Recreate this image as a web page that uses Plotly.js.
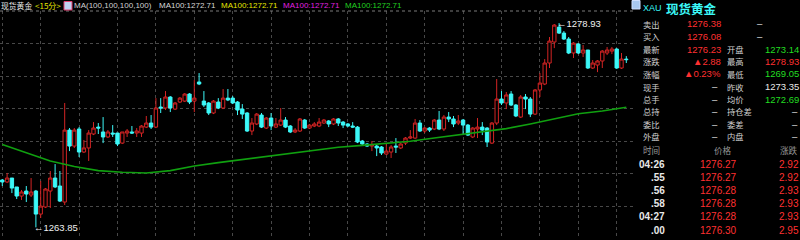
<!DOCTYPE html>
<html><head><meta charset="utf-8">
<script src="https://cdn.plot.ly/plotly-3.0.1.min.js"></script>
<style>html,body{margin:0;padding:0;background:#000;}#chart{width:800px;height:240px;}</style>
</head><body><div id="chart"></div>
<script>
// ---------- data ----------
const openP = [
1267.34,1267.20,1267.49,1266.83,1266.16,1266.53,1266.24,1266.53,1264.83,1265.35,
1266.53,1267.49,1266.90,1265.72,1271.03,1269.85,1271.11,1269.41,1269.71,1270.74,
1271.25,1270.89,1270.52,1270.81,1270.81,1270.07,1270.81,1270.89,1270.81,1270.81,
1271.25,1271.55,1271.25,1272.73,1272.66,1273.47,1272.58,1273.10,1273.17,1273.69,
1273.17,1274.58,1273.17,1273.03,1272.29,1273.10,1272.66,1273.39,1273.39,1273.10,
1272.58,1272.29,1270.96,1271.48,1272.14,1271.18,1271.92,1271.25,1271.40,1271.77,
1271.33,1270.89,1270.96,1271.77,1271.18,1271.33,1271.33,1271.55,1271.70,1271.48,
1271.85,1271.62,1271.48,1271.33,1271.25,1270.22,1270.00,1269.85,1269.85,1269.78,
1269.26,1269.41,1269.85,1269.71,1270.07,1270.44,1270.44,1271.55,1270.96,1271.18,
1271.11,1271.77,1271.11,1271.99,1271.85,1271.55,1271.77,1271.40,1270.52,1271.11,
1271.25,1271.18,1270.07,1271.55,1273.32,1273.03,1273.69,1272.88,1271.99,1273.47,
1273.32,1272.21,1273.99,1274.43,1275.98,1277.53,1278.63,1278.19,1277.75,1276.72,
1277.38,1276.72,1276.94,1275.61,1275.83,1276.13,1276.72,1276.86,1277.01,1275.61,
1276.27];
const highP = [
1267.42,1267.86,1267.49,1266.83,1266.61,1266.90,1267.49,1266.61,1267.27,1266.75,
1268.01,1268.52,1268.01,1273.03,1271.18,1271.18,1271.25,1270.30,1271.03,1271.62,
1271.55,1271.99,1271.03,1271.40,1270.81,1270.89,1271.11,1271.33,1271.18,1271.40,
1272.07,1272.14,1273.39,1273.39,1273.91,1273.54,1273.10,1273.47,1273.76,1273.76,
1274.72,1275.24,1273.91,1273.10,1273.25,1273.39,1274.06,1274.06,1273.54,1273.17,
1272.95,1272.36,1271.92,1272.29,1272.29,1271.99,1272.29,1271.92,1272.66,1271.99,
1271.40,1271.18,1271.92,1271.85,1271.48,1271.62,1271.92,1271.85,1271.77,1271.92,
1271.92,1271.70,1271.55,1271.62,1271.33,1270.30,1270.07,1270.22,1269.93,1269.85,
1270.00,1269.93,1270.44,1270.07,1270.52,1271.03,1271.85,1271.77,1271.25,1271.25,
1271.85,1272.44,1272.14,1272.36,1272.07,1272.14,1271.85,1271.48,1271.25,1271.92,
1271.62,1271.25,1271.62,1274.80,1273.91,1273.84,1273.91,1272.95,1273.62,1273.69,
1273.47,1274.06,1275.24,1276.27,1277.90,1278.86,1278.93,1278.34,1277.90,1277.53,
1277.45,1277.31,1276.94,1276.20,1276.20,1276.94,1277.16,1277.16,1277.08,1276.72,
1276.49];
const lowP = [
1266.90,1267.12,1266.38,1265.94,1265.87,1265.72,1266.09,1263.85,1264.54,1265.28,
1265.28,1266.75,1265.72,1265.50,1269.48,1269.71,1269.04,1269.34,1268.75,1270.66,
1270.74,1270.07,1270.44,1270.52,1269.85,1270.00,1270.52,1270.74,1270.52,1270.52,
1271.18,1271.11,1271.18,1272.29,1272.51,1272.36,1272.51,1273.03,1273.10,1272.95,
1272.36,1274.35,1272.73,1272.14,1272.21,1272.58,1272.58,1273.17,1272.95,1272.14,
1271.85,1270.89,1270.66,1271.40,1271.18,1271.11,1271.03,1271.18,1271.33,1271.18,
1270.81,1270.81,1270.89,1271.11,1271.11,1271.25,1271.25,1271.48,1271.25,1271.40,
1271.33,1271.18,1271.25,1271.18,1270.07,1269.93,1269.78,1269.48,1269.11,1269.19,
1269.19,1268.97,1269.34,1269.63,1269.93,1270.37,1270.37,1270.89,1270.81,1270.89,
1271.03,1271.03,1270.96,1271.62,1271.25,1271.40,1270.66,1270.59,1270.44,1270.44,
1270.66,1269.78,1270.00,1271.40,1272.88,1272.58,1272.80,1271.99,1271.92,1272.58,
1271.99,1272.14,1273.47,1274.35,1275.61,1277.08,1278.12,1277.68,1276.64,1276.35,
1276.64,1276.42,1275.54,1275.54,1275.31,1275.61,1276.57,1276.64,1275.54,1275.54,
1275.98];
const closeP = [
1267.20,1267.49,1266.75,1266.16,1266.46,1266.31,1266.46,1264.83,1265.42,1266.68,
1267.49,1266.83,1265.79,1271.03,1269.85,1271.03,1269.41,1269.71,1270.81,1271.18,
1271.18,1270.52,1270.89,1270.74,1270.00,1270.89,1270.96,1270.81,1270.96,1271.33,
1271.55,1271.25,1272.66,1272.66,1273.47,1272.66,1273.03,1273.39,1273.69,1273.10,
1273.39,1274.43,1272.88,1272.29,1273.17,1272.66,1273.39,1273.25,1273.03,1272.51,
1272.21,1270.96,1271.55,1272.21,1271.25,1271.92,1271.33,1271.48,1271.77,1271.25,
1270.89,1271.03,1271.85,1271.18,1271.40,1271.48,1271.62,1271.77,1271.48,1271.85,
1271.55,1271.40,1271.33,1271.25,1270.15,1270.00,1269.85,1269.93,1269.71,1269.34,
1269.48,1269.78,1269.78,1270.00,1270.44,1270.52,1271.55,1270.96,1271.18,1271.03,
1271.77,1271.11,1271.99,1271.85,1271.48,1271.70,1271.40,1270.66,1271.18,1271.25,
1271.03,1270.15,1271.55,1273.32,1273.03,1273.62,1272.88,1272.07,1273.47,1273.32,
1272.21,1273.99,1274.50,1275.98,1277.60,1278.78,1278.19,1277.75,1276.72,1277.45,
1276.72,1276.94,1275.61,1275.98,1276.13,1276.86,1276.94,1277.01,1275.61,1276.27,
1276.23];
// MA100 read at every 5th bar
const maBar = [0,5,10,15,20,25,30,35,40,45,50,55,60,65,70,75,80,85,90,95,100,105,110,115,120,125,130];
const maVal = [1269.96,1269.36,1268.75,1268.34,1268.04,1267.92,1267.86,1268.04,1268.38,1268.63,
  1268.86,1269.11,1269.31,1269.54,1269.76,1269.90,1270.03,1270.20,1270.44,1270.66,
  1270.89,1271.14,1271.48,1271.86,1272.24,1272.44,1272.71];
const hiBar = 116, hiVal = 1278.93, loBar = 7, loVal = 1263.85;

// header texts
const titleName = '现货黄金', titlePeriod = '<15分>';
const maParam = 'MA(100,100,100,100)';
const maLabels = ['MA100:1272.71','MA100:1272.71','MA100:1272.71','MA100:1272.71'];
// quote panel
const panelCode = 'XAU', panelName = '现货黄金';
const qLab1 = ['卖出','买入','最新','涨跌','涨幅','现手','总手','总持','委比','外盘'];
const qVal1 = ['1276.38','1276.08','1276.23','▲2.88','▲0.23%','–','–','–','–','–'];
const qLab2 = ['','','开盘','最高','最低','昨收','均价','持仓差','委差','内盘'];
const qVal2 = ['–','–','1273.14','1278.93','1269.05','1273.35','1272.69','–','–','–'];
const tHead = ['时间','价格','涨跌'];
const tTime = ['04:26','.55','.56','.58','04:27','.00'];
const tPrice = ['1276.27','1276.27','1276.28','1276.28','1276.28','1276.30'];
const tChg = ['2.92','2.92','2.93','2.93','2.93','2.95'];

// ---------- styling / layout ----------
const RED='#d42424', CYAN='#3cf8f8', GREEN='#22dd22', WHITE='#e8e8e8', GRAY='#9a9a9a', YEL='#e6e600', MAG='#e020e0', MAGRN='#20d020', VRED='#ff3030', LAB='#d0d0d0';
const SANS="'Liberation Sans',Arial,sans-serif";
const CJK="'Noto Sans CJK SC','Noto Sans',sans-serif";
const PL=0, PW=636, PT=11, PH=228;
const px = x => (x-PL)/PW, py = y => (PT+PH-y)/PH;
const n = Math.min(openP.length, highP.length, lowP.length, closeP.length);
const bars = Array.from({length:n}, (_,i)=>i);
const yMin = 1262.99, yMax = 1279.82;

const traces = [
  {type:'candlestick', x:bars, open:openP.slice(0,n), high:highP.slice(0,n), low:lowP.slice(0,n), close:closeP.slice(0,n),
   increasing:{line:{color:RED,width:1}, fillcolor:'#000000'},
   decreasing:{line:{color:CYAN,width:1}, fillcolor:CYAN},
   whiskerwidth:0, hoverinfo:'skip', showlegend:false},
  {type:'scatter', mode:'lines', x:maBar, y:maVal, line:{color:'#10a010', width:1.6}, hoverinfo:'skip', showlegend:false}
];

const ann = [];
function txt(x, y, text, color, size, family, anchor){
  ann.push({xref:'paper', yref:'paper', x:px(x), y:py(y), text:text, showarrow:false,
    xanchor:anchor||'left', yanchor:'middle', borderpad:0,
    font:{color:color, size:size, family:family}});
}
// header
txt(0, 5.5, titleName, WHITE, 7.8, CJK);
txt(34, 5.5, titlePeriod, YEL, 8, CJK);
txt(73, 5.5, maParam, '#d0d0d0', 8, SANS);
const maCols = ['#d8d8d8', YEL, MAG, MAGRN];
const maX = [158, 220, 282, 344];
maLabels.forEach((t,i)=>txt(maX[i], 5.5, t, maCols[i], 8, SANS));
// high / low markers (data coords)
ann.push({xref:'x', yref:'y', x:hiBar, y:hiVal, text:'←'+hiVal.toFixed(2), showarrow:false, xanchor:'left', yanchor:'middle', xshift:-3, borderpad:0, font:{color:'#f0f0f0', size:9.5, family:SANS}});
ann.push({xref:'x', yref:'y', x:loBar, y:loVal, text:'←'+loVal.toFixed(2), showarrow:false, xanchor:'left', yanchor:'middle', xshift:-3, borderpad:0, font:{color:'#f0f0f0', size:9.5, family:SANS}});

// quote panel title
txt(642, 8.5, panelCode, CYAN, 9, SANS);
txt(665, 8.5, '<b>'+panelName+'</b>', CYAN, 12.5, CJK);
// quote rows
const rowY = [24.0,36.1,49.3,61.4,73.5,86.7,99.0,111.1,124.0,136.1];
const v1c = [VRED,VRED,VRED,VRED,VRED,WHITE,WHITE,WHITE,WHITE,WHITE];
const v2c = [WHITE,WHITE,GREEN,VRED,GREEN,WHITE,GREEN,WHITE,WHITE,WHITE];
qLab1.forEach((t,i)=>{
  txt(642, rowY[i], t, LAB, 8.3, CJK);
  if (qVal1[i]==='–') txt(715, rowY[i], qVal1[i], v1c[i], 9.5, SANS, 'center');
  else txt(722, rowY[i], qVal1[i], v1c[i], 9.5, SANS, 'right');
  if (qLab2[i]) txt(726, rowY[i], qLab2[i], LAB, 8.3, CJK);
  if (qVal2[i]==='–') txt(i<2 ? 760 : 794.5, rowY[i], qVal2[i], v2c[i], 9.5, SANS, 'center');
  else txt(800, rowY[i], qVal2[i], v2c[i], 9.5, SANS, 'right');
});
// trade list
txt(642, 150.2, tHead[0], GRAY, 8.6, CJK);
txt(713, 150.2, tHead[1], GRAY, 8.6, CJK);
txt(799, 150.2, tHead[2], GRAY, 8.6, CJK, 'right');
const tY = [164,177.2,190.4,203.6,216.8,230];
tTime.forEach((t,i)=>{
  txt(666, tY[i], '<b>'+t+'</b>', WHITE, 10, SANS, 'right');
  txt(738, tY[i], tPrice[i], VRED, 10, SANS, 'right');
  txt(800, tY[i], tChg[i], VRED, 10, SANS, 'right');
});

const shapes = [
  {type:'line', xref:'paper', yref:'paper', x0:0, x1:1, y0:1, y1:1, line:{color:'#7a7a7a', width:1, dash:'dot'}},
  {type:'rect', xref:'paper', yref:'paper', x0:px(64), x1:px(72), y0:py(10), y1:py(1.5), fillcolor:'#c0d0f0', line:{color:'#e04070', width:1}},
  {type:'rect', xref:'paper', yref:'paper', x0:px(632), x1:px(640), y0:py(9), y1:py(0.5), fillcolor:'#a8c8f0', line:{color:'#d0e0ff', width:1}}
];

const layout = {
  width:800, height:240, margin:{l:PL, r:800-PL-PW, t:PT, b:240-PT-PH, pad:0},
  paper_bgcolor:'#000000', plot_bgcolor:'#000000', showlegend:false,
  boxgap:0, boxgroupgap:0.3,
  xaxis:{range:[-0.48,132.02], showticklabels:false, ticks:'', showgrid:true, gridcolor:'#484848', griddash:'dot', gridwidth:1,
         tick0:0, dtick:8, zeroline:false, showline:false, rangeslider:{visible:false}, fixedrange:true},
  yaxis:{range:[yMin,yMax], showticklabels:false, ticks:'', showgrid:true, gridcolor:'#484848', griddash:'dot', gridwidth:1,
         tick0:yMin, dtick:(yMax-yMin)/7, zeroline:false, showline:false, fixedrange:true},
  annotations:ann, shapes:shapes
};
Plotly.newPlot('chart', traces, layout, {staticPlot:true, displayModeBar:false});
</script></body></html>
